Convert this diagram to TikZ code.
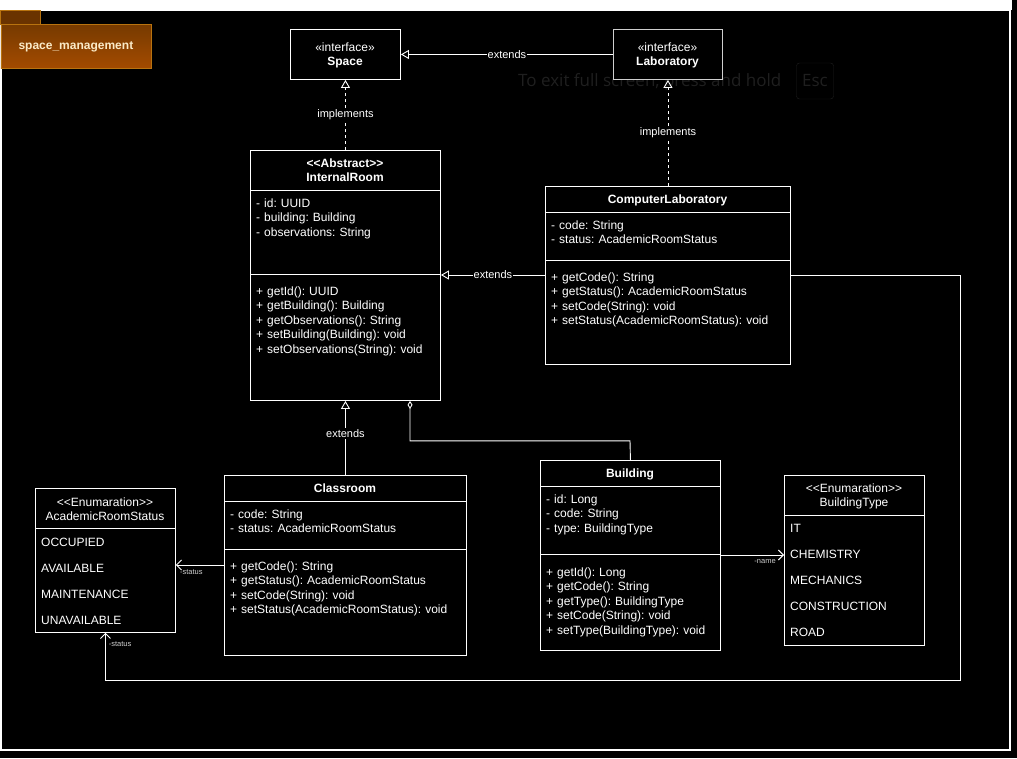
\documentclass[tikz,border=0pt]{standalone}
\usepackage{fontspec}
\setmainfont{Liberation Sans}
\newfontfamily\msgfont{Open Sans}
\usetikzlibrary{arrows.meta}
\frenchspacing

\definecolor{pkgtop}{HTML}{763A00}
\definecolor{pkgbot}{HTML}{A44B00}
\definecolor{pkgline}{HTML}{B8730F}
\definecolor{pkgtab}{HTML}{6A3300}
\definecolor{pkgtext}{HTML}{FBEBC8}
\definecolor{faint}{HTML}{1F1F1F}
\definecolor{soft}{HTML}{CFCFCF}

% double angle brackets kept as two separate characters
\newcommand{\lquo}{<\kern0pt<}
\newcommand{\rquo}{>\kern0pt>}

\tikzset{
  umlbox/.style={draw=white, fill=black, line width=0.9pt, rectangle, inner sep=0pt, anchor=north west},
  divider/.style={draw=white, line width=0.9pt},
  title/.style={anchor=base, align=center, text width=#1, inner sep=0pt, text=white,
                font=\fontsize{12}{14.5}\selectfont\bfseries},
  header/.style={anchor=base, align=center, text width=#1, inner sep=0pt, text=white,
                 font=\fontsize{12}{14.5}\selectfont},
  members/.style={anchor=base west, align=left, text width=250pt, inner sep=0pt, text=white,
                  font=\fontsize{12}{14.5}\selectfont},
  literals/.style={anchor=base west, align=left, text width=130pt, inner sep=0pt, text=white,
                   font=\fontsize{12}{26}\selectfont},
  conn/.style={draw=white, line width=0.9pt},
  generalize/.style={conn, -{Triangle[open, length=8pt, width=9pt]}},
  realize/.style={conn, dash pattern=on 3pt off 3pt, -{Triangle[open, length=8pt, width=9pt]}},
  assoc/.style={conn, -{Straight Barb[length=5pt, width=10pt, line width=0.9pt]}},
  aggregate/.style={conn, {Diamond[open, length=8pt, width=5pt]}-},
  elabel/.style={fill=black, text=white, inner sep=1pt, font=\fontsize{11}{13}\selectfont},
  rolelabel/.style={text=soft, inner sep=0pt, font=\fontsize{7.5}{9}\selectfont},
}

\begin{document}
\begin{tikzpicture}[x=1pt, y=-1pt]
\useasboundingbox (0,0) rectangle (1017,758);
\fill[black] (0,0) rectangle (1017,758);
\fill[white] (0,0) rectangle (1012,10);
\draw[white, line width=1.2pt] (1,10) rectangle (1010,750);

% package tab and name plate
\filldraw[fill=pkgtab, draw=pkgline, line width=0.8pt] (0.5,10.5) rectangle (40,24);
\node[rectangle, draw=pkgline, line width=0.8pt, top color=pkgtop, bottom color=pkgbot,
      minimum width=150pt, minimum height=44pt, inner sep=0pt, anchor=north west,
      text=pkgtext, font=\fontsize{12}{14}\selectfont\bfseries] (pkg) at (0.5,24) {space\_management};

% full screen notice
\node[anchor=west, inner sep=0pt, text=faint, font=\msgfont\fontsize{17}{20}\selectfont] (fsmsg) at (518,82) {To exit full screen, press and hold};
\node[draw=faint, rounded corners=3pt, minimum width=37pt, minimum height=36pt, inner sep=0pt,
      text=faint, font=\msgfont\fontsize{17}{20}\selectfont] (esc) at (815,81) {Esc};

% interfaces
\node[umlbox, minimum width=110pt, minimum height=50pt] (space) at (290,29) {};
\node[header=110pt] (spacet) at (345,51) {«interface»\\\textbf{Space}};
\node[umlbox, draw=soft, minimum width=109pt, minimum height=50pt] (lab) at (613,29) {};
\node[header=109pt] (labt) at (667.5,51) {«interface»\\\textbf{Laboratory}};

% InternalRoom
\node[umlbox, minimum width=190pt, minimum height=250pt] (ir) at (250,150) {};
\draw[divider] (250,190) -- (440,190);
\draw[divider] (250,274) -- (440,274);
\node[title=190pt] (irt) at (345,167) {\lquo Abstract\rquo\\InternalRoom};
\node[members] (ira) at (256,207) {- id: UUID\\- building: Building\\- observations: String};
\node[members] (irm) at (256,295) {+ getId(): UUID\\+ getBuilding(): Building\\+ getObservations(): String\\+ setBuilding(Building): void\\+ setObservations(String): void};

% ComputerLaboratory
\node[umlbox, minimum width=245pt, minimum height=178pt] (cl) at (545,186) {};
\draw[divider] (545,212) -- (790,212);
\draw[divider] (545,260) -- (790,260);
\node[title=245pt] (clt) at (667.5,203) {ComputerLaboratory};
\node[members] (cla) at (551,229) {- code: String\\- status: AcademicRoomStatus};
\node[members] (clm) at (551,281) {+ getCode(): String\\+ getStatus(): AcademicRoomStatus\\+ setCode(String): void\\+ setStatus(AcademicRoomStatus): void};

% Classroom
\node[umlbox, minimum width=242pt, minimum height=180pt] (cls) at (224,475) {};
\draw[divider] (224,501) -- (466,501);
\draw[divider] (224,549) -- (466,549);
\node[title=242pt] (clst) at (345,492) {Classroom};
\node[members] (clsa) at (230,518) {- code: String\\- status: AcademicRoomStatus};
\node[members] (clsm) at (230,570) {+ getCode(): String\\+ getStatus(): AcademicRoomStatus\\+ setCode(String): void\\+ setStatus(AcademicRoomStatus): void};

% Building
\node[umlbox, minimum width=180pt, minimum height=190pt] (bld) at (540,460) {};
\draw[divider] (540,486) -- (720,486);
\draw[divider] (540,554) -- (720,554);
\node[title=180pt] (bldt) at (630,477) {Building};
\node[members] (blda) at (546,503) {- id: Long\\- code: String\\- type: BuildingType};
\node[members] (bldm) at (546,576) {+ getId(): Long\\+ getCode(): String\\+ getType(): BuildingType\\+ setCode(String): void\\+ setType(BuildingType): void};

% AcademicRoomStatus
\node[umlbox, minimum width=140pt, minimum height=144pt] (ars) at (35,488) {};
\draw[divider] (35,528) -- (175,528);
\node[header=140pt] (arst) at (105,506) {\lquo Enumaration\rquo\\AcademicRoomStatus};
\node[literals] (arsl) at (41,546) {OCCUPIED\\AVAILABLE\\MAINTENANCE\\UNAVAILABLE};

% BuildingType
\node[umlbox, minimum width=140pt, minimum height=170pt] (bt) at (784,475) {};
\draw[divider] (784,515) -- (924,515);
\node[header=140pt] (btt) at (854,492) {\lquo Enumaration\rquo\\BuildingType};
\node[literals] (btl) at (790,532) {IT\\CHEMISTRY\\MECHANICS\\CONSTRUCTION\\ROAD};

% relations
\draw[generalize] (lab.west) -- (space.east) node[elabel, midway] (l1) {extends};
\draw[realize] (ir.north) -- (space.south) node[elabel, midway] (l2) {implements};
\draw[realize] (cl.north) -- (lab.south) node[elabel, midway] (l3) {implements};

\path (cl.north west) ++(0,89) coordinate (clx);
\draw[generalize] (clx) -- (clx -| ir.east) node[elabel, midway] (l4) {extends};

\draw[generalize] (cls.north) -- (ir.south) node[elabel, pos=0.56] (l5) {extends};

\path (ir.south west) ++(160,0) coordinate (irdm);
\draw[aggregate] (irdm) |- ++(220,40) -- (bld.north);

\path (cls.north west) ++(0,90) coordinate (clsx);
\draw[assoc] (clsx) -- (clsx -| ars.east) node[rolelabel, pos=0.68, below=4pt] (l6) {-status};

\path (cl.north east) ++(0,89) coordinate (clr);
\path (clr) ++(170,405) coordinate (cnr);
\draw[assoc] (clr) -| (cnr) -| (ars.south) node[rolelabel, pos=0.88, anchor=west, xshift=3pt] (l7) {-status};

\path (bld.north west) ++(0,95) coordinate (bldx);
\draw[assoc] (bldx -| bld.east) -- (bldx -| bt.west) node[rolelabel, pos=0.7, below=4pt] (l8) {-name};
\end{tikzpicture}
\end{document}
